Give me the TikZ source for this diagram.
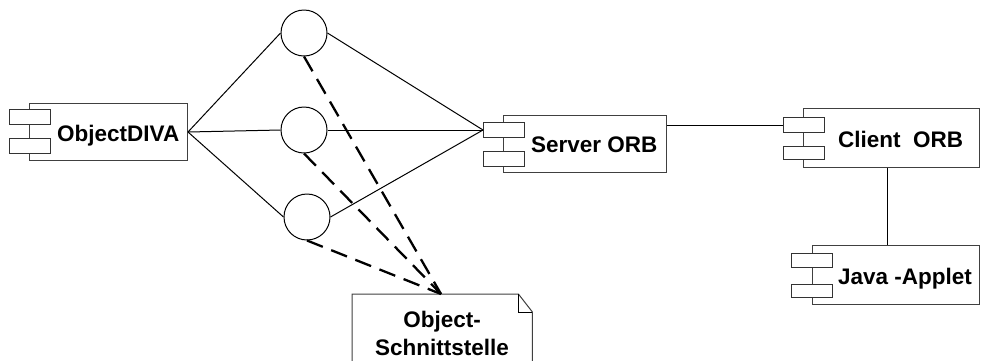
\documentclass[tikz,border=0pt]{standalone}
\usepackage{fontspec}
\setmainfont{Liberation Sans}
\begin{document}
\begin{tikzpicture}[x=1pt,y=-1pt,
  box/.style={draw=black!75, line width=1pt, fill=white, inner sep=0pt, anchor=north west},
  tab/.style={draw=black!80, line width=1pt, fill=white, inner sep=0pt, anchor=north west,
              minimum width=41, minimum height=15},
  lbl/.style={font=\fontsize{22.5}{28}\selectfont\bfseries, inner sep=0pt, anchor=base west},
  iface/.style={circle, draw=black, line width=1pt, fill=white, minimum size=46, inner sep=0pt},
  link/.style={draw=black, line width=1pt},
  dep/.style={draw=black, line width=2.3pt, dash pattern=on 17pt off 9pt},
  notebox/.style={draw=black!75, line width=1pt, fill=white}
]
\useasboundingbox (0,0) rectangle (981,360);

% component ObjectDIVA
\node[box, minimum width=158, minimum height=57] (diva) at (29,103) {};
\node[tab] (diva-a) at (9,109) {};
\node[tab] (diva-b) at (9,138) {};
\node[lbl] (diva-l) at (57,141) {ObjectDIVA};

% component Server ORB
\node[box, minimum width=163, minimum height=57] (srv) at (503,115) {};
\node[tab] (srv-a) at (483,122) {};
\node[tab] (srv-b) at (483,151) {};
\node[lbl] (srv-l) at (531,152) {Server ORB};

% component Client ORB
\node[box, minimum width=176, minimum height=59] (cli) at (803,108) {};
\node[tab] (cli-a) at (783,117) {};
\node[tab, minimum height=13] (cli-b) at (783,146) {};
\node[lbl] (cli-l) at (838,147) {Client\ \ ORB};

% component Java-Applet
\node[box, minimum width=167, minimum height=59] (java) at (812,245) {};
\node[tab, minimum height=14] (java-a) at (791,253) {};
\node[tab, minimum height=13] (java-b) at (791,284) {};
\node[lbl] (java-l) at (838,284) {Java -Applet};

% interfaces
\node[iface] (if1) at (304,33) {};
\node[iface] (if2) at (304,130) {};
\node[iface] (if3) at (307,217) {};

% note
\node[minimum width=180, minimum height=80, inner sep=0pt, anchor=north west] (note) at (352,294) {};
\path[notebox] (note.north west) -- ([xshift=-14pt]note.north east)
  -- ([yshift=-18pt]note.north east) -- (note.south east) -- (note.south west) -- cycle;
\draw[black, line width=1pt] ([xshift=-14pt]note.north east) -- ([xshift=-14pt,yshift=-18pt]note.north east)
  -- ([yshift=-18pt]note.north east);
\node[lbl, anchor=base] (note-a) at (442,327) {Object-};
\node[lbl, anchor=base] (note-b) at (442,355) {Schnittstelle};
\coordinate (hub) at (441,294);

% connections ObjectDIVA -- interfaces -- Server ORB
\foreach \i in {if1,if2,if3} {
  \draw[link] (diva.east) -- (\i.west);
  \draw[link] (\i.east) -- (srv-a.west);
}
\draw[link] (srv.east |- cli-a.west) -- (cli-a.west);
\coordinate (jx) at (887,0);
\draw[link] (cli.south -| jx) -- (java.north -| jx);

% dependencies to the note
\foreach \i in {if1,if2,if3}
  \draw[dep] (\i.south) -- (hub);
\end{tikzpicture}
\end{document}
